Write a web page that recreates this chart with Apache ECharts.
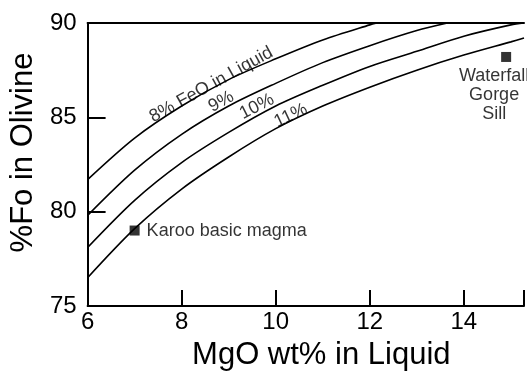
<!DOCTYPE html>
<html>
<head>
<meta charset="utf-8">
<script src="https://cdn.jsdelivr.net/npm/echarts@6/dist/echarts.min.js"></script>
<style>
  html, body { margin: 0; padding: 0; background: #fff; }
  #chart { width: 527px; height: 376px; }
</style>
</head>
<body>
<div id="chart"></div>
<script>
// FeO-in-liquid curves (MgO wt%, %Fo)
var mgo8 = [6, 7, 8, 9, 10, 11, 12, 12.15];
var fo8 = [81.7, 83.9, 85.6, 87.0, 88.1, 89.1, 89.9, 90.0];
var mgo9 = [6, 7, 8, 9, 10, 11, 12, 13, 13.65];
var fo9 = [79.8, 82.2, 84.1, 85.6, 86.8, 87.9, 88.8, 89.6, 90.0];
var mgo10 = [6, 7, 8, 9, 10, 11, 12, 13, 14, 15, 15.28];
var fo10 = [78.1, 80.6, 82.6, 84.2, 85.6, 86.7, 87.7, 88.5, 89.3, 89.9, 90.0];
var mgo11 = [6, 7, 8, 9, 10, 11, 12, 13, 14, 15, 15.28];
var fo11 = [76.5, 79.1, 81.2, 82.9, 84.4, 85.6, 86.6, 87.5, 88.3, 89.0, 89.2];

var curveNames = ['8% FeO in Liquid', '9%', '10%', '11%'];

// samples
var sampleNames = ['Karoo basic magma', 'Waterfall\nGorge\nSill'];
var sampleMgo = [7.0, 14.9];
var sampleFo = [79.0, 88.2];

var xTicks = [6, 8, 10, 12, 14];
var yTicks = [75, 80, 85, 90];

// where the curve names sit, and their tilt
var labelPos = [[8.63, 86.73], [8.84, 85.83], [9.6, 85.57], [10.32, 85.09]];
var labelAngle = [29, 29, 27, 25];

var font = 'Liberation Sans, Arial, sans-serif';

function pairs(xs, ys) {
    var out = [];
    for (var i = 0; i < xs.length; i++) {
        out.push([xs[i], ys[i]]);
    }
    return out;
}

function curve(name, xs, ys) {
    return {
        name: name,
        type: 'line',
        data: pairs(xs, ys),
        smooth: 0.3,
        showSymbol: false,
        silent: true,
        clip: true,
        lineStyle: { color: '#000', width: 1.6 }
    };
}

var labelData = [];
for (var i = 0; i < curveNames.length; i++) {
    labelData.push({
        value: labelPos[i],
        name: curveNames[i],
        label: { rotate: labelAngle[i] }
    });
}

var sampleData = [];
for (var j = 0; j < sampleNames.length; j++) {
    sampleData.push({ value: [sampleMgo[j], sampleFo[j]], name: sampleNames[j] });
}
sampleData[0].label = { position: 'right', distance: 7, align: 'left' };
sampleData[1].label = { position: 'bottom', distance: 5, offset: [-12, 0], align: 'center', lineHeight: 19 };

var axisMin = 6, axisMax = 15.28;

var option = {
    animation: false,
    textStyle: { fontFamily: font, color: '#000' },
    grid: { left: 86, top: 23, right: 0, bottom: 69, containLabel: false },
    xAxis: [
        {
            type: 'value',
            min: axisMin,
            max: axisMax,
            interval: 2,
            name: 'MgO wt% in Liquid',
            nameLocation: 'middle',
            nameGap: 34,
            nameTextStyle: { fontSize: 31, fontFamily: font, color: '#000', padding: [0, 0, 0, 31] },
            axisLine: { show: true, onZero: false, lineStyle: { color: '#000', width: 2 } },
            axisTick: { show: true, inside: true, length: 16, lineStyle: { color: '#000', width: 2 } },
            axisLabel: {
                fontSize: 24, color: '#000', fontFamily: font, margin: 4,
                formatter: function (v) { return xTicks.indexOf(v) >= 0 ? String(v) : ''; }
            },
            splitLine: { show: false }
        },
        {
            type: 'value',
            position: 'top',
            min: axisMin,
            max: axisMax,
            axisLine: { show: true, lineStyle: { color: '#000', width: 2 } },
            axisTick: { show: false },
            axisLabel: { show: false },
            splitLine: { show: false }
        }
    ],
    yAxis: {
        type: 'value',
        min: 75,
        max: 90,
        interval: 5,
        name: '%Fo in Olivine',
        nameLocation: 'middle',
        nameGap: 48,
        nameTextStyle: { fontSize: 31, fontFamily: font, color: '#000', padding: [0, 0, 0, 24] },
        axisLine: { show: true, onZero: false, lineStyle: { color: '#000', width: 2 } },
        axisTick: { show: true, inside: true, length: 18, lineStyle: { color: '#000', width: 2 } },
        axisLabel: {
            fontSize: 24, color: '#000', fontFamily: font, margin: 11,
            formatter: function (v) { return yTicks.indexOf(v) >= 0 ? String(v) : ''; }
        },
        splitLine: { show: false }
    },
    series: [
        curve(curveNames[0], mgo8, fo8),
        curve(curveNames[1], mgo9, fo9),
        curve(curveNames[2], mgo10, fo10),
        curve(curveNames[3], mgo11, fo11),
        {
            name: 'curve labels',
            type: 'scatter',
            symbolSize: 0,
            silent: true,
            data: labelData,
            label: {
                show: true,
                position: 'inside',
                formatter: '{b}',
                fontSize: 18,
                fontFamily: font,
                color: '#000'
            }
        },
        {
            name: 'samples',
            type: 'scatter',
            symbol: 'rect',
            symbolSize: 10,
            silent: true,
            itemStyle: { color: '#000' },
            data: sampleData,
            label: {
                show: true,
                formatter: '{b}',
                fontSize: 18,
                fontFamily: font,
                color: '#000'
            }
        }
    ]
};

var myChart = echarts.init(document.getElementById('chart'));
myChart.setOption(option);
</script>
</body>
</html>
